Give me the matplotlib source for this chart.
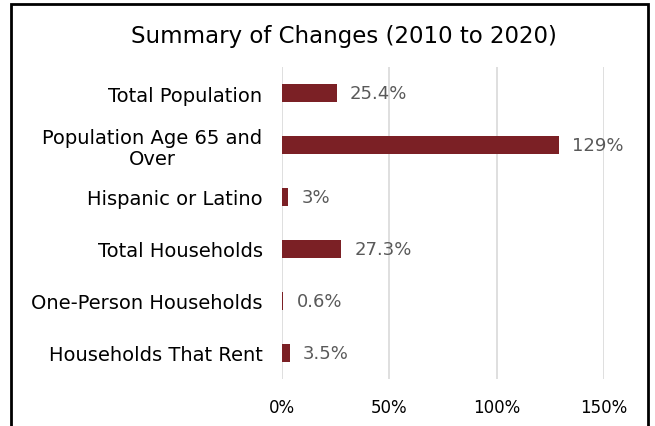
import matplotlib
matplotlib.use("Agg")
import matplotlib.pyplot as plt
from matplotlib.patches import Rectangle

categories = ["Total Population", "Population Age 65 and\nOver", "Hispanic or Latino",
              "Total Households", "One-Person Households", "Households That Rent"]
values = [25.4, 129, 3, 27.3, 0.6, 3.5]
value_labels = ["25.4%", "129%", "3%", "27.3%", "0.6%", "3.5%"]
ticks = [0, 50, 100, 150]
tick_labels = ["0%", "50%", "100%", "150%"]

plt.rcParams['font.family'] = ['DejaVu Sans']

fig = plt.figure(figsize=(6.55, 4.27), dpi=100)
ax = fig.add_axes([282/655, 1 - 380/427, (604 - 282)/655, (380 - 68)/427])

y = list(range(len(categories)))
ax.barh(y, values, height=0.35, color="#7B2025", zorder=3)
for yi, v, lab in zip(y, values, value_labels):
    ax.text(v + 6.3, yi, lab, va="center", ha="left", fontsize=13, color="#595959")

ax.set_xlim(0, 150)
ax.set_ylim(len(categories) - 0.5, -0.5)
ax.set_xticks(ticks)
ax.set_xticklabels(tick_labels, fontsize=12)
ax.set_yticks(y)
ax.set_yticklabels(categories, fontsize=14, multialignment="center", linespacing=1.12)
ax.tick_params(axis="both", length=0)
ax.tick_params(axis="x", pad=13.5)
ax.tick_params(axis="y", pad=14)
ax.grid(axis="x", color="#d9d9d9", linewidth=1.2, zorder=0)
for s in ax.spines.values():
    s.set_visible(False)

fig.text(344/655, 1 - 37/427, "Summary of Changes (2010 to 2020)", ha="center", va="center", fontsize=16.5)

# outer frame
fig.patches.append(Rectangle((11/655, -0.1), (648 - 11)/655, 1.1 - 5/427, transform=fig.transFigure,
                             fill=False, edgecolor="black", linewidth=2, clip_on=False))

fig.savefig("out.png", dpi=100)
